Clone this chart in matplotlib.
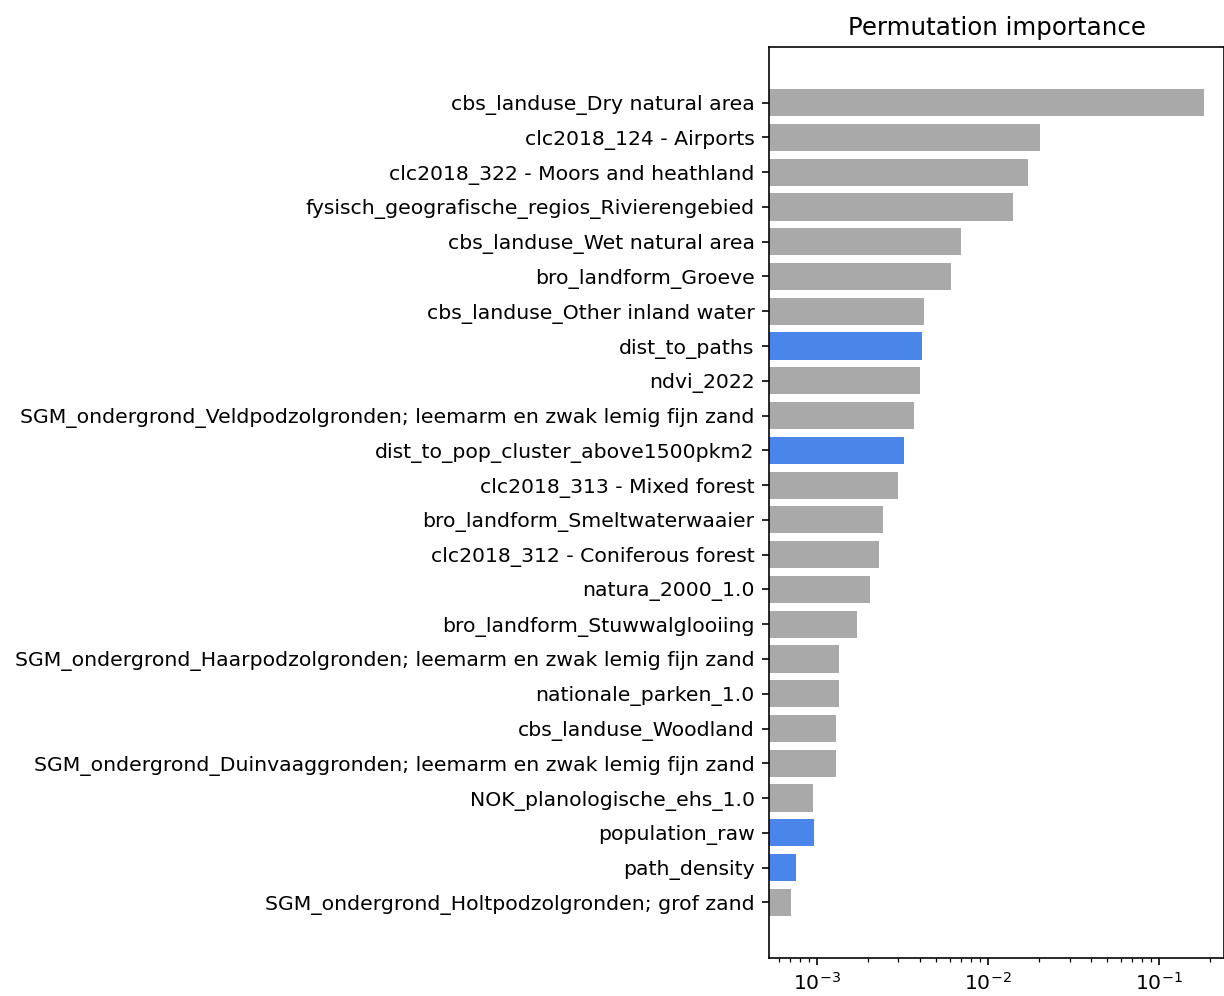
import matplotlib
matplotlib.use("Agg")
import matplotlib.pyplot as plt
import numpy as np

features = [
    "cbs_landuse_Dry natural area",
    "clc2018_124 - Airports",
    "clc2018_322 - Moors and heathland",
    "fysisch_geografische_regios_Rivierengebied",
    "cbs_landuse_Wet natural area",
    "bro_landform_Groeve",
    "cbs_landuse_Other inland water",
    "dist_to_paths",
    "ndvi_2022",
    "SGM_ondergrond_Veldpodzolgronden; leemarm en zwak lemig fijn zand",
    "dist_to_pop_cluster_above1500pkm2",
    "clc2018_313 - Mixed forest",
    "bro_landform_Smeltwaterwaaier",
    "clc2018_312 - Coniferous forest",
    "natura_2000_1.0",
    "bro_landform_Stuwwalglooiing",
    "SGM_ondergrond_Haarpodzolgronden; leemarm en zwak lemig fijn zand",
    "nationale_parken_1.0",
    "cbs_landuse_Woodland",
    "SGM_ondergrond_Duinvaaggronden; leemarm en zwak lemig fijn zand",
    "NOK_planologische_ehs_1.0",
    "population_raw",
    "path_density",
    "SGM_ondergrond_Holtpodzolgronden; grof zand",
]
importance = [
    0.183, 0.0201, 0.0171, 0.0140, 0.00691, 0.00604, 0.00421, 0.00410,
    0.00399, 0.00368, 0.00321, 0.00297, 0.00243, 0.00230, 0.00204, 0.00171,
    0.00134, 0.00134, 0.00129, 0.00129, 0.000935, 0.000947, 0.000744, 0.000696,
]
highlighted = ["dist_to_paths", "dist_to_pop_cluster_above1500pkm2",
               "population_raw", "path_density"]

colors = ["#4a86ea" if f in highlighted else "#a9a9a9" for f in features]

s = 1.47
fig = plt.figure(figsize=(12.24, 9.96), dpi=100)
ax = fig.add_axes([769/1224, 1 - 958/996, (1224 - 769)/1224, (958 - 47)/996])
y = np.arange(len(features))
ax.barh(y, importance, height=0.78, color=colors, left=1e-5)
ax.set_xscale("log")
ax.set_xlim(5.25e-4, 0.24)
ax.set_ylim(len(features) - 1 + 1.6, -1.6)
ax.set_yticks(y)
ax.set_yticklabels(features, fontsize=10 * s)
ax.tick_params(axis="both", which="major", length=3.5 * s, width=0.8 * s,
               pad=3.5 * s, labelsize=10 * s)
ax.tick_params(axis="x", which="minor", length=2 * s, width=0.6 * s)
for sp in ax.spines.values():
    sp.set_linewidth(0.8 * s)
ax.set_title("Permutation importance", fontsize=12 * s, pad=6 * s)
fig.savefig("out.png", dpi=100)
